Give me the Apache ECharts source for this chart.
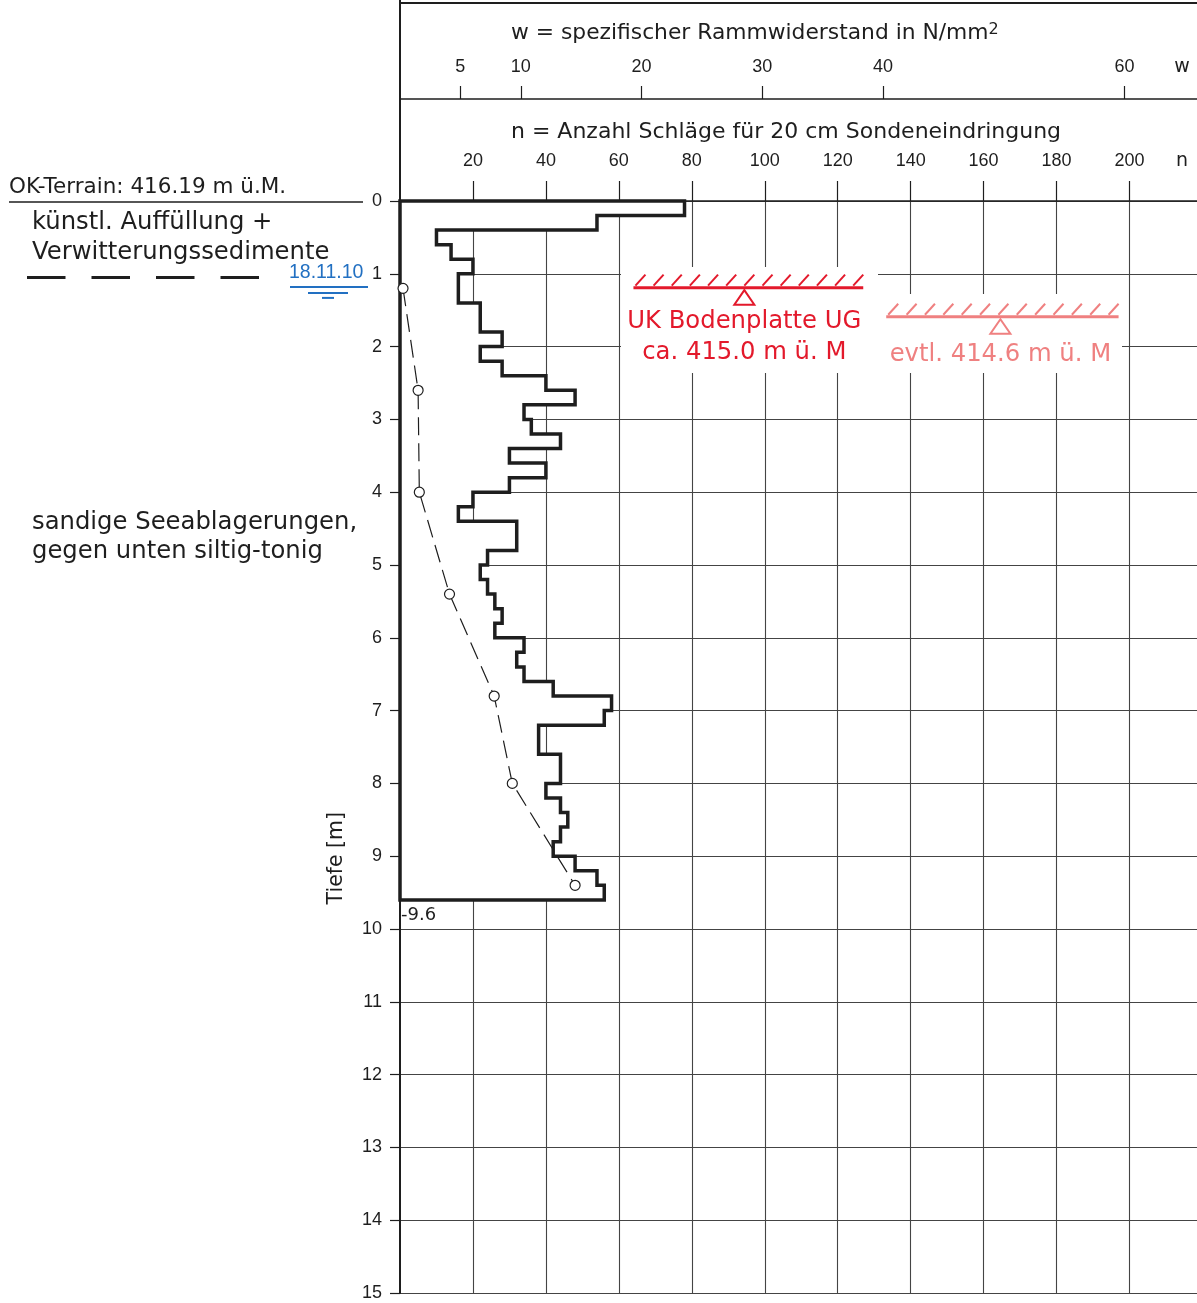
<!DOCTYPE html>
<html><head><meta charset="utf-8">
<script src="https://cdn.jsdelivr.net/npm/echarts@6.0.0/dist/echarts.min.js"></script>
<style>html,body{margin:0;padding:0;background:#fff}#c{width:1197px;height:1303px}</style>
</head><body><div id="c"></div>
<script>
// ---------------- data ----------------
const nTicks = [20, 40, 60, 80, 100, 120, 140, 160, 180, 200];
const wTicks = [5, 10, 20, 30, 40, 60];
const depthTicks = [0, 1, 2, 3, 4, 5, 6, 7, 8, 9, 10, 11, 12, 13, 14, 15];
const stepDepthTop = [0, 0.2, 0.4, 0.6, 0.8, 1.0, 1.2, 1.4, 1.6, 1.8, 2.0, 2.2, 2.4, 2.6, 2.8, 3.0,
  3.2, 3.4, 3.6, 3.8, 4.0, 4.2, 4.4, 4.6, 4.8, 5.0, 5.2, 5.4, 5.6, 5.8, 6.0, 6.2, 6.4, 6.6, 6.8,
  7.0, 7.2, 7.4, 7.6, 7.8, 8.0, 8.2, 8.4, 8.6, 8.8, 9.0, 9.2, 9.4];
const blowsN = [78, 54, 10, 14, 20, 16, 16, 22, 22, 28, 22, 28, 40, 48, 34, 36,
  44, 30, 40, 30, 20, 16, 32, 32, 24, 22, 24, 26, 28, 26, 34, 32, 34, 42, 58,
  56, 38, 38, 44, 44, 40, 44, 46, 44, 42, 48, 54, 56];
const endDepth = 9.6;
const wDepth = [1.2, 2.6, 4.0, 5.4, 6.8, 8.0, 9.4];
const wValue = [0.25, 1.5, 1.6, 4.1, 7.8, 9.3, 14.5];
const terrainLevel = 416.19;
const slabLevels = [415.0, 414.6];
const groundwaterDepth = 1.18;
const groundwaterDate = '18.11.10';
const layerBoundaryDepth = 1.05;
const layerTexts = [
  ['künstl. Auffüllung +', 'Verwitterungssedimente'],
  ['sandige Seeablagerungen,', 'gegen unten siltig-tonig']
];
const nTitle = 'n = Anzahl Schläge für 20 cm Sondeneindringung';
const wTitle = 'w = spezifischer Rammwiderstand in N/mm';
const depthTitle = 'Tiefe [m]';

// ---------------- style ----------------
const N_MAX = 218.5, W_MAX = 66;
const TXT = '"DejaVu Sans", sans-serif';
const NUM = '"Liberation Sans", Arial, sans-serif';
const INK = '#1e1e1e';
const GRIDC = '#444';
const RED = '#e3192b';
const PINK = '#ef8080';
const BLUE = '#2270c2';

const profilePts = [[0, 0]];
for (let i = 0; i < blowsN.length; i++) {
  const bot = i + 1 < stepDepthTop.length ? stepDepthTop[i + 1] : endDepth;
  profilePts.push([blowsN[i], stepDepthTop[i]]);
  profilePts.push([blowsN[i], bot]);
}
profilePts.push([0, endDepth]);

const chart = echarts.init(document.getElementById('c'), null, {renderer: 'canvas'});
chart.setOption({
  animation: false,
  backgroundColor: '#fff',
  grid: {left: 400, top: 201, right: 0, bottom: 10, containLabel: false, outerBoundsMode: 'none'},
  xAxis: [
    {
      type: 'value', position: 'top', min: 0, max: N_MAX,
      axisLine: {show: true, onZero: false, lineStyle: {color: INK, width: 1.5}},
      axisTick: {show: true, customValues: nTicks, length: 20, lineStyle: {color: INK, width: 1.2}},
      axisLabel: {show: true, customValues: nTicks, margin: 31, fontSize: 18, color: INK, fontFamily: NUM},
      splitLine: {show: true, lineStyle: {color: GRIDC, width: 1.1}}
    },
    {
      type: 'value', position: 'top', offset: 102, min: 0, max: W_MAX,
      axisLine: {show: true, onZero: false, lineStyle: {color: INK, width: 1.5}},
      axisTick: {show: true, customValues: wTicks, length: 13, lineStyle: {color: INK, width: 1.2}},
      axisLabel: {show: true, customValues: wTicks, margin: 23, fontSize: 18, color: INK, fontFamily: NUM},
      splitLine: {show: false}
    },
    {
      type: 'value', position: 'top', offset: 198, min: 0, max: 1,
      axisLine: {show: true, onZero: false, lineStyle: {color: INK, width: 2}},
      axisTick: {show: false}, axisLabel: {show: false}, splitLine: {show: false}
    }
  ],
  yAxis: {
    type: 'value', inverse: true, min: depthTicks[0], max: depthTicks[depthTicks.length - 1], interval: 1,
    axisLine: {show: true, onZero: false, lineStyle: {color: INK, width: 2}},
    axisTick: {show: true, length: 10, lineStyle: {color: INK, width: 1.2}},
    axisLabel: {show: true, margin: 18, fontSize: 18, color: INK, fontFamily: NUM},
    splitLine: {show: true, lineStyle: {color: GRIDC, width: 1.1}}
  },
  series: [
    {
      type: 'custom', xAxisIndex: 0, yAxisIndex: 0, data: [0], silent: true, z: 3,
      renderItem: function (params, api) {
        const pts = profilePts.map(p => api.coord(p));
        return {type: 'polygon', shape: {points: pts},
          style: {fill: '#fff', stroke: INK, lineWidth: 3.5, lineJoin: 'miter'}};
      }
    },
    {
      type: 'line', xAxisIndex: 1, yAxisIndex: 0, z: 5, silent: true,
      data: wValue.map((w, i) => [w, wDepth[i]]),
      symbol: 'circle', symbolSize: 10,
      itemStyle: {color: '#fff', borderColor: INK, borderWidth: 1.2},
      lineStyle: {color: INK, width: 1.2, type: [18, 8]}
    }
  ]
});

// ---------------- annotations (positioned via the chart's scales) ----------------
const P = (n, d) => chart.convertToPixel({xAxisIndex: 0, yAxisIndex: 0}, [n, d]);
const g = [];
const y0 = P(0, 0)[1];
const x0 = P(0, 0)[0];

// header left border
g.push({type: 'line', shape: {x1: x0, y1: 0, x2: x0, y2: y0}, style: {stroke: INK, lineWidth: 2}});
// header titles
g.push({type: 'text', x: 511, y: 33, style: {
  text: '{a|' + wTitle + '}{s|2}', textAlign: 'left', textVerticalAlign: 'middle',
  rich: {a: {fontSize: 21.8, fontFamily: TXT, fill: INK}, s: {fontSize: 16, fontFamily: TXT, fill: INK, verticalAlign: 'top'}}
}});
g.push({type: 'text', x: 511, y: 132, style: {text: nTitle, textAlign: 'left', textVerticalAlign: 'middle', fontSize: 22, fontFamily: TXT, fill: INK}});
g.push({type: 'text', x: 1182, y: 161, style: {text: 'n', textAlign: 'center', textVerticalAlign: 'middle', fontSize: 19, fontFamily: TXT, fill: INK}});
g.push({type: 'text', x: 1182, y: 67, style: {text: 'w', textAlign: 'center', textVerticalAlign: 'middle', fontSize: 19, fontFamily: TXT, fill: INK}});

// depth title
const tY = P(0, 9.0)[1];
g.push({type: 'text', x: 337, y: tY + 2, rotation: Math.PI / 2, style: {text: depthTitle, textAlign: 'center', textVerticalAlign: 'middle', fontSize: 20.5, fontFamily: TXT, fill: INK}});

// terrain
g.push({type: 'text', x: 9, y: y0 - 14, style: {text: 'OK-Terrain: ' + terrainLevel.toFixed(2) + ' m ü.M.', textAlign: 'left', textVerticalAlign: 'middle', fontSize: 21.5, fontFamily: TXT, fill: INK}});
g.push({type: 'line', shape: {x1: 9, y1: y0 + 1, x2: 363, y2: y0 + 1}, style: {stroke: INK, lineWidth: 1.5}});

// layer texts
const lb = P(0, layerBoundaryDepth)[1];
g.push({type: 'text', x: 32, y: y0 + 22, style: {text: layerTexts[0][0], textAlign: 'left', textVerticalAlign: 'middle', fontSize: 24.3, fontFamily: TXT, fill: INK}});
g.push({type: 'text', x: 32, y: y0 + 52, style: {text: layerTexts[0][1], textAlign: 'left', textVerticalAlign: 'middle', fontSize: 24.3, fontFamily: TXT, fill: INK}});
g.push({type: 'line', shape: {x1: 27, y1: lb, x2: 259, y2: lb}, style: {stroke: INK, lineWidth: 3, lineDash: [38.5, 26]}});
const ls = P(0, 4.5)[1];
g.push({type: 'text', x: 32, y: ls - 6, style: {text: layerTexts[1][0], textAlign: 'left', textVerticalAlign: 'middle', fontSize: 24.3, fontFamily: TXT, fill: INK}});
g.push({type: 'text', x: 32, y: ls + 23, style: {text: layerTexts[1][1], textAlign: 'left', textVerticalAlign: 'middle', fontSize: 24.3, fontFamily: TXT, fill: INK}});

// groundwater
const gw = P(0, groundwaterDepth)[1];
g.push({type: 'text', x: 289, y: gw - 14, style: {text: groundwaterDate, textAlign: 'left', textVerticalAlign: 'middle', fontSize: 19.5, fontFamily: NUM, fill: BLUE}});
g.push({type: 'line', shape: {x1: 290, y1: gw, x2: 368, y2: gw}, style: {stroke: BLUE, lineWidth: 2}});
g.push({type: 'line', shape: {x1: 308, y1: gw + 6, x2: 348, y2: gw + 6}, style: {stroke: BLUE, lineWidth: 2}});
g.push({type: 'line', shape: {x1: 322, y1: gw + 11, x2: 334, y2: gw + 11}, style: {stroke: BLUE, lineWidth: 2}});

// end depth label
const ye = P(0, endDepth)[1];
g.push({type: 'text', x: x0 + 1, y: ye + 15, style: {text: '-' + endDepth.toFixed(1), textAlign: 'left', textVerticalAlign: 'middle', fontSize: 18, fontFamily: TXT, fill: INK}});

// slab level annotations
const annots = [
  {level: slabLevels[0], n0: 64, n1: 127, nc: 94.4, color: RED, box: [60.6, 131, 0.92, 2.35],
    lines: ['UK Bodenplatte UG', 'ca. ' + slabLevels[0].toFixed(1) + ' m ü. M'], textDy: [34, 65]},
  {level: slabLevels[1], n0: 133.3, n1: 197, nc: 164.6, color: PINK, box: [130, 197.8, 1.29, 2.35],
    lines: ['evtl. ' + slabLevels[1].toFixed(1) + ' m ü. M'], textDy: [38]}
];
annots.forEach(a => {
  const b0 = P(a.box[0], a.box[2]), b1 = P(a.box[1], a.box[3]);
  const bx = Math.floor(b0[0]), by = Math.floor(b0[1]);
  g.push({type: 'rect', shape: {x: bx, y: by, width: Math.ceil(b1[0]) - bx, height: Math.ceil(b1[1]) - by}, style: {fill: '#fff'}});
});
annots.forEach(a => {
  const d = terrainLevel - a.level;
  const pL = P(a.n0, d), pR = P(a.n1, d), pc = P(a.nc, d);
  const y = pL[1];
  g.push({type: 'line', shape: {x1: pL[0], y1: y, x2: pR[0], y2: y}, style: {stroke: a.color, lineWidth: 3}});
  const count = 13, step = (pR[0] - pL[0] - 12) / (count - 1);
  for (let k = 0; k < count; k++) {
    const xs = pL[0] + 2 + k * step;
    g.push({type: 'line', shape: {x1: xs, y1: y - 2, x2: xs + 10, y2: y - 13}, style: {stroke: a.color, lineWidth: 2}});
  }
  g.push({type: 'polygon', shape: {points: [[pc[0], y + 2.5], [pc[0] - 10, y + 17], [pc[0] + 10, y + 17]]}, style: {fill: 'none', stroke: a.color, lineWidth: 2}});
  a.lines.forEach((t, i) => {
    g.push({type: 'text', x: pc[0], y: y + a.textDy[i], style: {text: t, textAlign: 'center', textVerticalAlign: 'middle', fontSize: 24.3, fontFamily: TXT, fill: a.color}});
  });
});

chart.setOption({graphic: {elements: g}});
</script>
</body></html>
